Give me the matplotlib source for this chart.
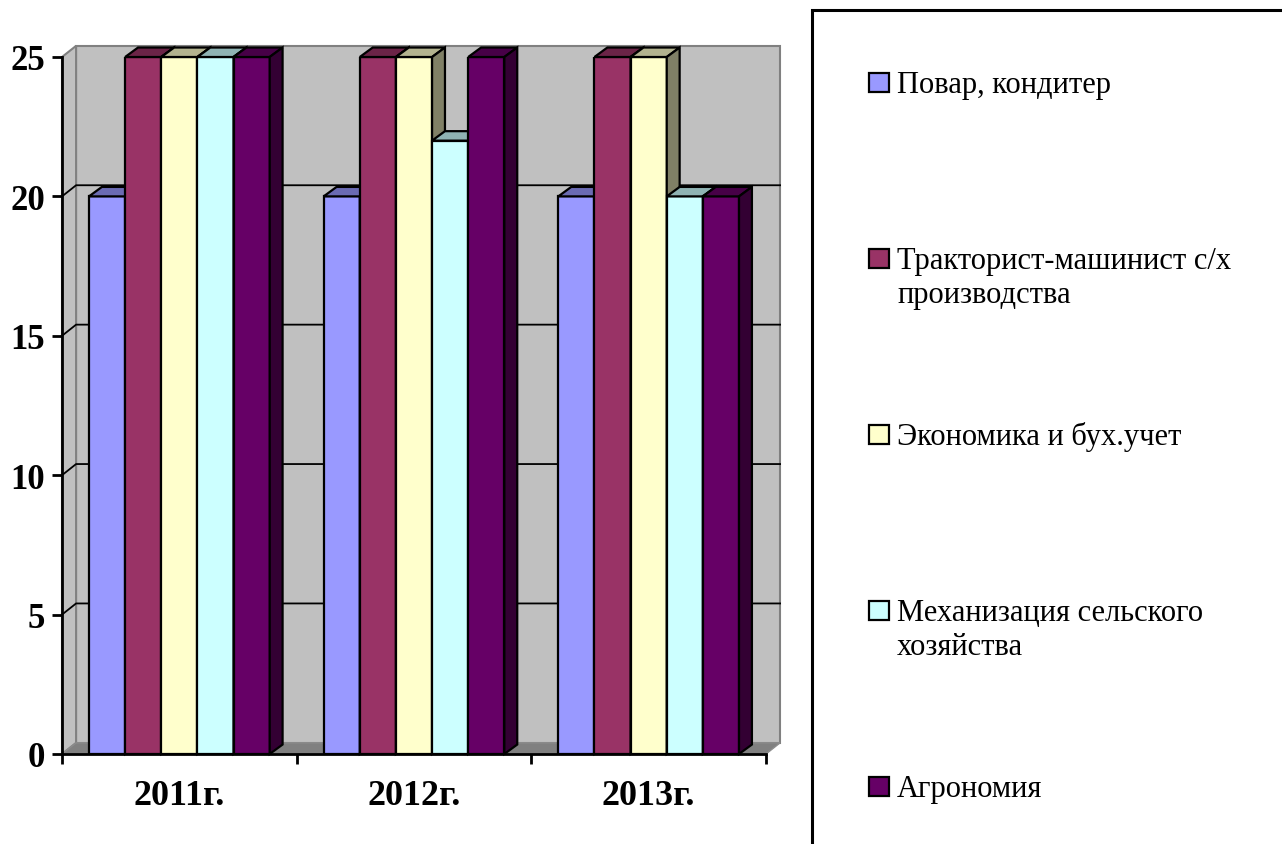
import matplotlib
matplotlib.use('Agg')
import matplotlib.pyplot as plt
from matplotlib.patches import Polygon, Rectangle
from matplotlib.colors import to_rgb
import numpy as np

# data
years = ['2011г.', '2012г.', '2013г.']
series = ['Повар, кондитер',
          'Тракторист-машинист с/х\nпроизводства',
          'Экономика и бух.учет',
          'Механизация сельского\nхозяйства',
          'Агрономия']
cook = [20, 20, 20]
tractor = [25, 25, 25]
econ = [25, 25, 25]
mech = [25, 22, 20]
agro = [25, 25, 20]
values = [cook, tractor, econ, mech, agro]
colors = ['#9999FF', '#993366', '#FFFFCC', '#CCFFFF', '#660066']

plt.rcParams['font.family'] = ['Liberation Serif', 'DejaVu Serif']

W, H = 1282, 845
fig = plt.figure(figsize=(W / 100, H / 100), dpi=100)
ax = fig.add_axes([62 / W, 90 / H, 704 / W, 697 / H])
ax.set_xlim(0, 3)
ax.set_ylim(0, 25)
ax.patch.set_visible(False)

ymax = 25
ncat = len(years)
# depth of the 3d box and of the bars (data units)
wdx, wdy = 0.06, 0.4
bdx, bdy = 0.055, 0.34


def shade(c, f):
    return tuple(np.array(to_rgb(c)) * f)


# walls and floor
ax.add_patch(Rectangle((wdx, wdy), ncat, ymax, fc='#C0C0C0', ec='#808080',
                       lw=1.5, zorder=0.5, clip_on=False))
ax.add_patch(Polygon([(0, 0), (wdx, wdy), (wdx, ymax + wdy), (0, ymax)],
                     closed=True, fc='#C0C0C0', ec='#808080', lw=1.5,
                     zorder=0.5, clip_on=False))
ax.add_patch(Polygon([(0, 0), (ncat, 0), (ncat + wdx, wdy), (wdx, wdy)],
                     closed=True, fc='#808080', ec='#8c8c8c', lw=1,
                     zorder=0.7, clip_on=False))
for t in range(5, ymax, 5):
    ax.plot([0, wdx, ncat + wdx], [t, t + wdy, t + wdy], color='black',
            lw=1.3, zorder=0.6, clip_on=False)

# bars
w = 0.154
start = 0.5 - len(series) * w / 2
for j, (vals, c) in enumerate(zip(values, colors)):
    xs = np.arange(ncat) + start + j * w
    z = 2 + j
    ax.bar(xs, vals, width=w, align='edge', color=c, edgecolor='black',
           lw=1.6, zorder=z)
    for x0, h in zip(xs, vals):
        top = Polygon([(x0, h), (x0 + w, h), (x0 + w + bdx, h + bdy),
                       (x0 + bdx, h + bdy)], closed=True, fc=shade(c, 0.7),
                      ec='black', lw=1.6, zorder=z, clip_on=False)
        side = Polygon([(x0 + w, 0), (x0 + w + bdx, bdy),
                        (x0 + w + bdx, h + bdy), (x0 + w, h)], closed=True,
                       fc=shade(c, 0.5), ec='black', lw=1.6, zorder=z,
                       clip_on=False)
        ax.add_patch(top)
        ax.add_patch(side)

# axes
for s in ['top', 'right']:
    ax.spines[s].set_visible(False)
for s in ['left', 'bottom']:
    ax.spines[s].set_linewidth(2)
    ax.spines[s].set_zorder(10)
ax.set_yticks(range(0, ymax + 1, 5))
ax.set_xticks(range(ncat + 1))
ax.set_xticklabels([])
ax.set_xticks(np.arange(ncat) + 0.5, minor=True)
ax.set_xticklabels(years, minor=True)
ax.tick_params(axis='both', which='major', direction='out', length=7,
               width=2, color='black')
ax.tick_params(axis='x', which='minor', length=0, pad=18)
ax.tick_params(axis='y', pad=5)
for lbl in ax.get_yticklabels():
    lbl.set_fontweight('bold')
    lbl.set_fontsize(25)
for lbl in ax.get_xticklabels(minor=True):
    lbl.set_fontweight('bold')
    lbl.set_fontsize(26)

# legend box
fig.add_artist(Rectangle((812 / W, -0.1), 0.5, 1.1 - 11 / H, fill=False,
                         ec='black', lw=2.2, transform=fig.transFigure))
for k, (lab, c) in enumerate(zip(series, colors)):
    base = 93 + k * 176
    fig.add_artist(Rectangle((869 / W, 1 - base / H), 20 / W, 19 / H,
                             fc=c, ec='black', lw=1.6,
                             transform=fig.transFigure))
    for m, line in enumerate(lab.split('\n')):
        fig.text(897 / W, 1 - (base + m * 34) / H, line, fontsize=22,
                 va='baseline', ha='left')

fig.savefig('out.png', dpi=100)
